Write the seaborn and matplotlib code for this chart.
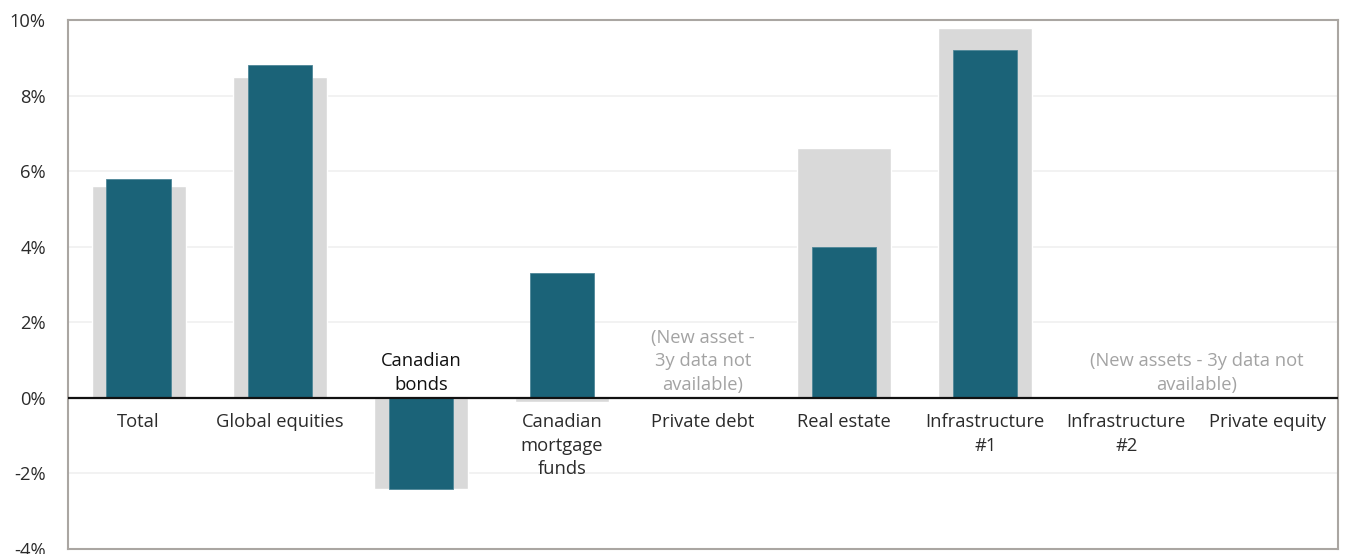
import numpy as np
import pandas as pd
import matplotlib
matplotlib.use("Agg")
import matplotlib.pyplot as plt
import matplotlib.transforms as mtransforms
import seaborn as sns

# Asset classes and 3-year annualised returns (%)
categories = ["Total", "Global equities", "Canadian bonds", "Canadian mortgage funds",
              "Private debt", "Real estate", "Infrastructure #1", "Infrastructure #2",
              "Private equity"]
category_labels = ["Total", "Global equities", "Canadian\nbonds", "Canadian\nmortgage\nfunds",
                   "Private debt", "Real estate", "Infrastructure\n#1", "Infrastructure\n#2",
                   "Private equity"]
portfolio_return = [5.8, 8.8, -2.4, 3.3, np.nan, 4.0, 9.2, np.nan, np.nan]
benchmark_return = [5.6, 8.5, -2.4, -0.1, np.nan, 6.6, 9.8, np.nan, np.nan]
y_ticks = [-4, -2, 0, 2, 4, 6, 8, 10]

df = pd.DataFrame({"asset": categories,
                   "portfolio": portfolio_return,
                   "benchmark": benchmark_return})

sns.set_theme(style="white")
plt.rcParams["font.family"] = ["Open Sans", "DejaVu Sans"]

TEAL = "#1b6378"
GREY = "#d9d9d9"
TEXT = "#2b2b2b"
NOTE = "#a3a3a3"
FS = 13.2
LS = 1.4

fig = plt.figure(figsize=(13.47, 5.54), dpi=100)
ax = fig.add_axes([0.0505, 0.009, 0.9428, 0.9549])

sns.barplot(data=df, x="asset", y="benchmark", order=categories, color=GREY,
            width=0.667, saturation=1, errorbar=None, ax=ax, zorder=2)
sns.barplot(data=df, x="asset", y="portfolio", order=categories, color=TEAL,
            width=0.455, saturation=1, errorbar=None, ax=ax, zorder=3,
            edgecolor="#4f8798", linewidth=0.6)

ax.set_xlim(-0.5, len(categories) - 0.5)
ax.set_ylim(-4, 10)
ax.set_yticks(y_ticks)
ax.set_yticklabels([f"{t}%" for t in y_ticks], fontsize=FS, color=TEXT)
ax.tick_params(axis="y", length=0, pad=16)
ax.set_xticks([])
ax.set_xlabel("")
ax.set_ylabel("")

for t in y_ticks:
    if t != 0:
        ax.axhline(t, color="#f0f0f0", linewidth=1.2, zorder=0)
ax.axhline(0, color="#111111", linewidth=1.6, zorder=4)

for s in ax.spines.values():
    s.set_color("#aaa6a2")
    s.set_linewidth(1.5)

# Category labels sit on the zero line: below it, or above it for negative bars
for i, (lab, val) in enumerate(zip(category_labels, portfolio_return)):
    if not np.isnan(val) and val < 0:
        off = mtransforms.offset_copy(ax.transData, fig=fig, x=0, y=3, units="points")
        ax.text(i, 0, lab, ha="center", va="bottom", fontsize=FS, color="#111111",
                transform=off, linespacing=LS)
    else:
        off = mtransforms.offset_copy(ax.transData, fig=fig, x=0, y=-11, units="points")
        ax.text(i, 0, lab, ha="center", va="top", fontsize=FS, color=TEXT,
                transform=off, linespacing=LS)

# Notes for assets without a 3-year history
note_off = mtransforms.offset_copy(ax.transData, fig=fig, x=0, y=3, units="points")
ax.text(4, 0, "(New asset -\n3y data not\navailable)", ha="center", va="bottom",
        fontsize=FS, color=NOTE, transform=note_off, linespacing=LS)
ax.text(7.5, 0, "(New assets - 3y data not\navailable)", ha="center", va="bottom",
        fontsize=FS, color=NOTE, transform=note_off, linespacing=LS)

fig.savefig("out.png", dpi=100)
